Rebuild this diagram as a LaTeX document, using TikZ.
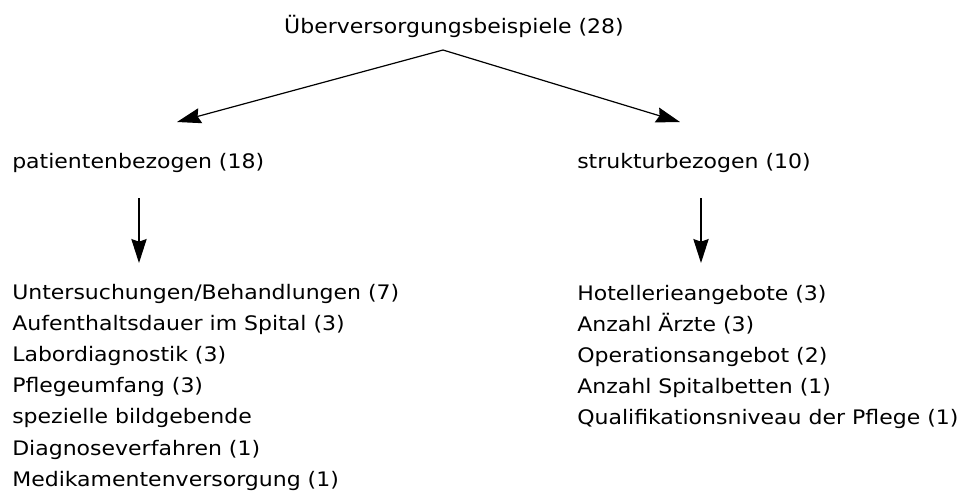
\documentclass[tikz,border=0pt]{standalone}
\usepackage{fontspec}
\setmainfont{DejaVu Sans}[FakeStretch=1.1]
\usetikzlibrary{arrows.meta}
\begin{document}
\begin{tikzpicture}[x=0.75pt,y=-0.75pt,
  lbl/.style={inner sep=0pt,font=\fontsize{15pt}{18pt}\selectfont},
  arr/.style={line width=0.9pt,-{Stealth[length=18pt,width=11.5pt,inset=2pt]}}]
\useasboundingbox (0,0) rectangle (958,497);
\node[lbl,anchor=base] (top) at (454,33) {Überversorgungsbeispiele (28)};
\coordinate (apex) at (443,50);
\node[lbl,anchor=base west] (pat) at (12,168) {patientenbezogen (18)};
\node[lbl,anchor=base west] (str) at (577,168) {strukturbezogen (10)};
\coordinate (patin) at (177,122);
\coordinate (strin) at (680,122);
\draw[arr] (apex) -- (patin);
\draw[arr] (apex) -- (strin);
\coordinate (patout) at (139,198);
\coordinate (patlist) at (139,263);
\coordinate (strout) at (701,198);
\coordinate (strlist) at (701,263);
\draw[arr] (patout) -- (patlist);
\draw[arr] (strout) -- (strlist);
\foreach \t [count=\i] in {Untersuchungen/Behandlungen (7),Aufenthaltsdauer im Spital (3),Labordiagnostik (3),Pflegeumfang (3),spezielle bildgebende,Diagnoseverfahren (1),Medikamentenversorgung (1)}
  \node[lbl,anchor=base west] (p\i) at (12,{299+31.2*(\i-1)}) {\t};
\foreach \t [count=\i] in {Hotellerieangebote (3),Anzahl Ärzte (3),Operationsangebot (2),Anzahl Spitalbetten (1),Qualifikationsniveau der Pflege (1)}
  \node[lbl,anchor=base west] (s\i) at (577,{300+31.2*(\i-1)}) {\t};
\end{tikzpicture}
\end{document}
